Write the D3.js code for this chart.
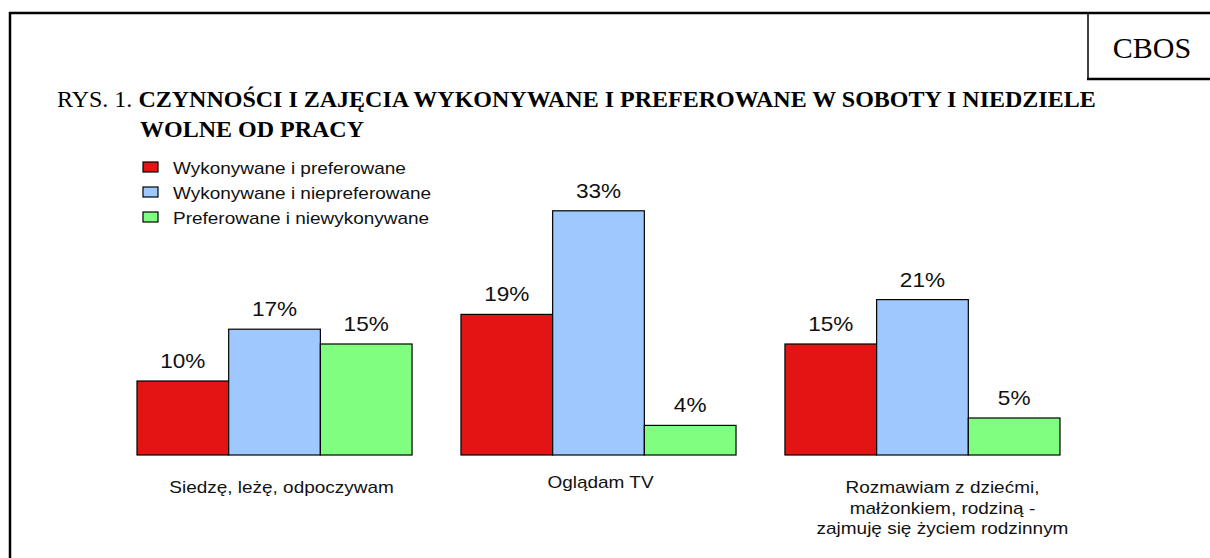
<!DOCTYPE html>
<html>
<head>
<meta charset="utf-8">
<script src="https://cdn.jsdelivr.net/npm/d3@7"></script>
<style>
  body { margin: 0; background: #fff; }
  svg { display: block; }
</style>
</head>
<body>
<div id="chart"></div>
<script>
// Data
const categories = [
  ["Siedzę, leżę, odpoczywam"],
  ["Oglądam TV"],
  ["Rozmawiam z dziećmi,", "małżonkiem, rodziną -", "zajmuję się życiem rodzinnym"]
];
const seriesNames = ["Wykonywane i preferowane", "Wykonywane i niepreferowane", "Preferowane i niewykonywane"];
const doneAndPreferred = [10, 19, 15];
const doneNotPreferred = [17, 33, 21];
const preferredNotDone = [15, 4, 5];

const seriesColors = ["#e31414", "#9fc8fe", "#80fe80"];
const sx = 1.13; // the original figure is slightly stretched sideways

const width = 1210, height = 558;
const svg = d3.select("#chart").append("svg")
  .attr("width", width)
  .attr("height", height);

// frame and CBOS box
const frame = svg.append("g").attr("stroke", "#000").attr("stroke-width", 2.5).attr("fill", "none");
frame.append("line").attr("x1", 9).attr("x2", width).attr("y1", 13).attr("y2", 13);
frame.append("line").attr("x1", 10).attr("x2", 10).attr("y1", 12).attr("y2", height);
frame.append("line").attr("x1", 1088).attr("x2", 1088).attr("y1", 13).attr("y2", 79).attr("stroke-width", 1.5);
frame.append("line").attr("x1", 1087).attr("x2", width).attr("y1", 79).attr("y2", 79);

svg.append("text")
  .attr("x", 1152).attr("y", 58)
  .attr("text-anchor", "middle")
  .style("font-family", "'Liberation Serif', 'Times New Roman', serif")
  .style("font-size", "30px")
  .text("CBOS");

// title
const title = svg.append("text")
  .attr("x", 57).attr("y", 107)
  .style("font-family", "'Liberation Serif', 'Times New Roman', serif")
  .style("font-size", "24px");
title.append("tspan").text("RYS. 1. ");
title.append("tspan").style("font-weight", "bold")
  .text("CZYNNOŚCI I ZAJĘCIA WYKONYWANE I PREFEROWANE W SOBOTY I NIEDZIELE");
svg.append("text")
  .attr("x", 140).attr("y", 137)
  .style("font-family", "'Liberation Serif', 'Times New Roman', serif")
  .style("font-size", "24px")
  .style("font-weight", "bold")
  .text("WOLNE OD PRACY");

// helper for horizontally stretched sans text
function sansText(x, y, size, anchor, str) {
  return svg.append("text")
    .attr("transform", `translate(${x},${y}) scale(${sx},1)`)
    .attr("text-anchor", anchor)
    .style("font-family", "Arial, 'Liberation Sans', sans-serif")
    .style("font-size", size + "px")
    .style("fill", "#111")
    .text(str);
}

// scales
const x0 = d3.scaleBand()
  .domain(d3.range(categories.length))
  .range([137, 1060])
  .paddingInner(0.151)
  .paddingOuter(0);
const x1 = d3.scaleBand()
  .domain(d3.range(seriesNames.length))
  .range([0, x0.bandwidth()]);
const y = d3.scaleLinear().domain([0, 40]).range([455, 159]);

const seriesValues = [doneAndPreferred, doneNotPreferred, preferredNotDone];
const barData = [];
categories.forEach((c, i) => {
  seriesValues.forEach((vals, s) => {
    barData.push({ cat: i, series: s, value: vals[i] });
  });
});

svg.append("g").selectAll("rect")
  .data(barData)
  .join("rect")
  .attr("x", d => x0(d.cat) + x1(d.series))
  .attr("y", d => y(d.value))
  .attr("width", x1.bandwidth())
  .attr("height", d => y(0) - y(d.value))
  .attr("fill", d => seriesColors[d.series])
  .attr("stroke", "#000")
  .attr("stroke-width", 1.2);

barData.forEach(d => {
  sansText(x0(d.cat) + x1(d.series) + x1.bandwidth() / 2, y(d.value) - 13, 20, "middle", d.value + "%");
});

// category labels
const labelNudge = [7, 2, 20];
const labelTop = [493, 488, 493];
categories.forEach((lines, i) => {
  lines.forEach((line, j) => {
    sansText(x0(i) + x0.bandwidth() / 2 + labelNudge[i], labelTop[i] + j * 20.5, 16.8, "middle", line);
  });
});

// legend
seriesNames.forEach((name, i) => {
  svg.append("rect")
    .attr("x", 143).attr("y", 162 + i * 25)
    .attr("width", 15).attr("height", 10)
    .attr("fill", seriesColors[i])
    .attr("stroke", "#000")
    .attr("stroke-width", 1.2);
  sansText(173, 174 + i * 25, 16.8, "start", name);
});
</script>
</body>
</html>
